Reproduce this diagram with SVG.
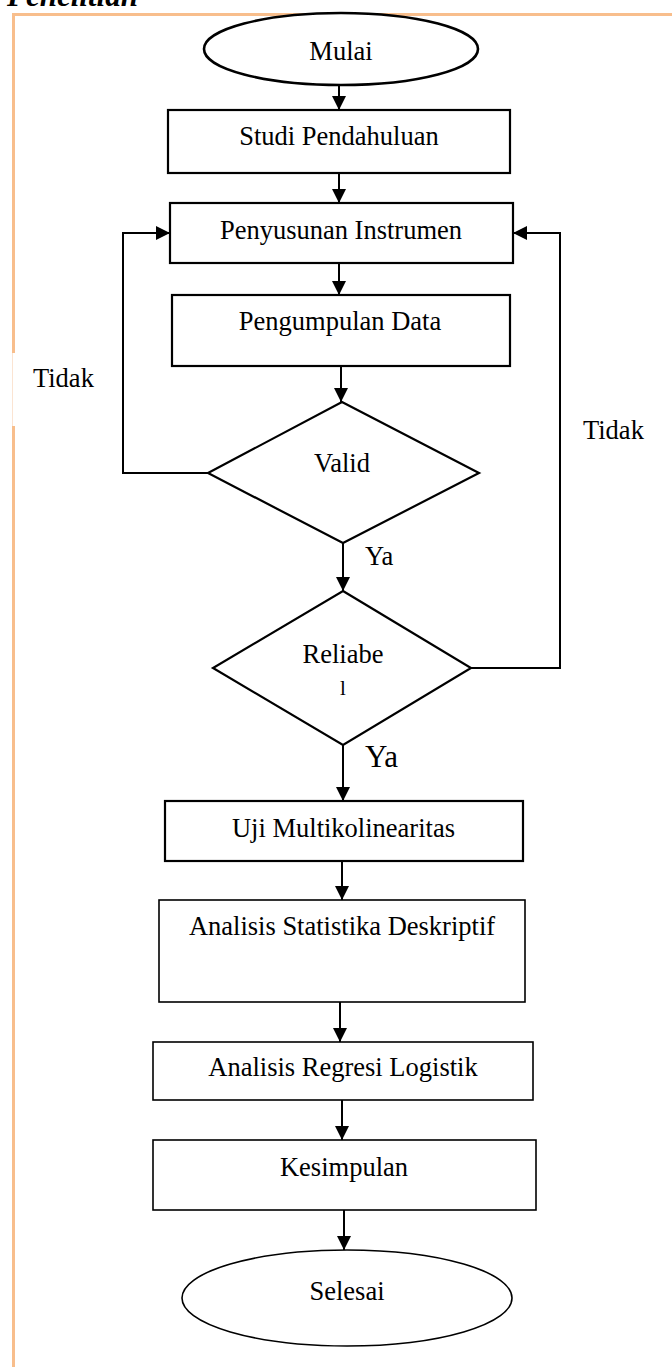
<svg xmlns="http://www.w3.org/2000/svg" width="672" height="1367" viewBox="0 0 672 1367">
  <style>
    .t { font-family: "Liberation Serif", "Times New Roman", serif; font-size: 26.5px; fill: #000; text-anchor: middle; }
    .lbl { font-family: "Liberation Serif", "Times New Roman", serif; font-size: 26.5px; fill: #000; }
    .box { fill: #fff; stroke: #000; stroke-width: 2.2; }
    .thin { fill: #fff; stroke: #000; stroke-width: 1.6; }
    .conn { fill: none; stroke: #000; stroke-width: 2; }
    .frame { stroke: #F8BE8C; stroke-width: 3; fill: none; }
  </style>
  <defs>
    <marker id="arr" markerUnits="userSpaceOnUse" markerWidth="14" markerHeight="14" viewBox="0 0 14 14" refX="14" refY="7" orient="auto">
      <path d="M0,0 L14,7 L0,14 z" fill="#000"/>
    </marker>
  </defs>
  <rect width="672" height="1367" fill="#fff"/>

  <g id="frame">
    <text x="7" y="6" style="font-family: 'Liberation Serif', 'Times New Roman', serif; font-size: 31px; font-weight: bold; font-style: italic;">Penelitian</text>
    <line class="frame" x1="12" y1="14.5" x2="672" y2="14.5"/>
    <line class="frame" x1="13.5" y1="13" x2="13.5" y2="353"/>
    <line x1="12.5" y1="353" x2="12.5" y2="426" stroke="#FBE4D2" stroke-width="1"/>
    <line class="frame" x1="13.5" y1="426" x2="13.5" y2="1367"/>
  </g>

  <g id="connectors">
    <path class="conn" d="M339,85 L339,110" marker-end="url(#arr)"/>
    <path class="conn" d="M339,173 L339,203" marker-end="url(#arr)"/>
    <path class="conn" d="M339,263 L339,295" marker-end="url(#arr)"/>
    <path class="conn" d="M341,366 L341,402" marker-end="url(#arr)"/>
    <path class="conn" d="M208,473 L123,473 L123,233 L170,233" marker-end="url(#arr)"/>
    <path class="conn" d="M343,543 L343,591" marker-end="url(#arr)"/>
    <path class="conn" d="M471,668 L560,668 L560,233 L513,233" marker-end="url(#arr)"/>
    <path class="conn" d="M343,745 L343,801" marker-end="url(#arr)"/>
    <path class="conn" d="M342,861 L342,900" marker-end="url(#arr)"/>
    <path class="conn" d="M340,1002 L340,1042" marker-end="url(#arr)"/>
    <path class="conn" d="M342,1100 L342,1140" marker-end="url(#arr)"/>
    <path class="conn" d="M344,1210 L344,1250" marker-end="url(#arr)"/>
  </g>

  <g id="labels">
    <text class="lbl" x="33" y="387">Tidak</text>
    <text class="lbl" x="583" y="439">Tidak</text>
    <text class="lbl" x="365" y="565">Ya</text>
    <text class="lbl" x="365" y="767" style="font-size:31px">Ya</text>
  </g>

  <g id="mulai">
    <ellipse cx="341" cy="49" rx="137" ry="36" fill="#fff" stroke="#000" stroke-width="2.6"/>
    <text class="t" x="341" y="60">Mulai</text>
  </g>
  <g id="studi">
    <rect class="box" x="168" y="110" width="342" height="63"/>
    <text class="t" x="339" y="145">Studi Pendahuluan</text>
  </g>
  <g id="penyusunan">
    <rect class="box" x="170" y="203" width="343" height="60"/>
    <text class="t" x="341" y="239">Penyusunan Instrumen</text>
  </g>
  <g id="pengumpulan">
    <rect class="box" x="172" y="295" width="338" height="71"/>
    <text class="t" x="340" y="330">Pengumpulan Data</text>
  </g>
  <g id="valid">
    <polygon class="box" points="342,402 479,473 343,543 208,473"/>
    <text class="t" x="342" y="472">Valid</text>
  </g>
  <g id="reliabel">
    <polygon class="box" points="343,591 471,668 343,745 213,668"/>
    <text class="t" x="343" y="663">Reliabe</text>
    <text class="t" x="343" y="695" style="font-size:21px">l</text>
  </g>
  <g id="uji">
    <rect class="box" x="165" y="801" width="358" height="60"/>
    <text class="t" x="343.5" y="837">Uji Multikolinearitas</text>
  </g>
  <g id="statistika">
    <rect class="thin" x="159" y="900" width="366" height="102"/>
    <text class="t" x="342" y="935">Analisis Statistika Deskriptif</text>
  </g>
  <g id="regresi">
    <rect class="thin" x="153" y="1042" width="380" height="58"/>
    <text class="t" x="343" y="1076">Analisis Regresi Logistik</text>
  </g>
  <g id="kesimpulan">
    <rect class="thin" x="153" y="1140" width="383" height="70"/>
    <text class="t" x="344" y="1176">Kesimpulan</text>
  </g>
  <g id="selesai">
    <ellipse cx="347" cy="1298" rx="165" ry="48" fill="#fff" stroke="#000" stroke-width="1.6"/>
    <text class="t" x="347" y="1300">Selesai</text>
  </g>
</svg>
